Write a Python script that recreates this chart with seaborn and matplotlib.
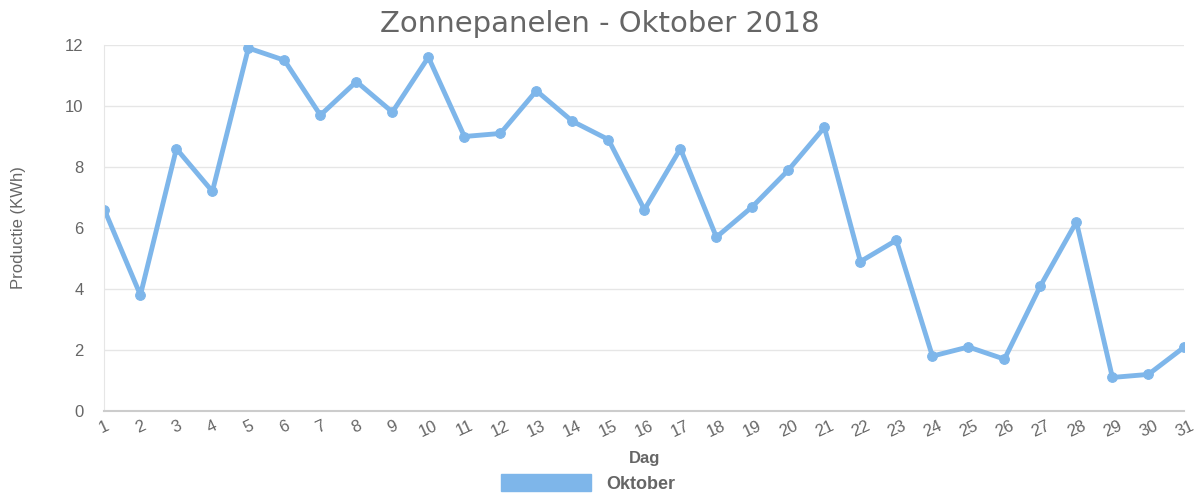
import pandas as pd
import seaborn as sns
import matplotlib.pyplot as plt

# dagen en productie in oktober 2018
dagen = list(range(1, 32))
productie = [6.6, 3.8, 8.6, 7.2, 11.9, 11.5, 9.7, 10.8, 9.8, 11.6,
             9.0, 9.1, 10.5, 9.5, 8.9, 6.6, 8.6, 5.7, 6.7, 7.9,
             9.3, 4.9, 5.6, 1.8, 2.1, 1.7, 4.1, 6.2, 1.1, 1.2, 2.1]
y_ticks = [0, 2, 4, 6, 8, 10, 12]

df = pd.DataFrame({"Dag": dagen, "Productie": productie})

sns.set_style("white")
plt.rcParams['font.family'] = ['Liberation Sans', 'DejaVu Sans']

kleur = "#7EB6EA"
grijs = "#666666"
fig = plt.figure(figsize=(12, 5), dpi=100)
ax = fig.add_axes([0.087, 0.178, 0.9, 0.732])

sns.lineplot(data=df, x="Dag", y="Productie", ax=ax, color=kleur, linewidth=3.5,
             marker="o", markersize=7, markeredgecolor=kleur, label="Oktober")

ax.set_xlim(1, 31)
ax.set_ylim(0, 12)
ax.set_xticks(dagen)
ax.set_xticklabels([str(d) for d in dagen], rotation=25, color=grijs, fontsize=12)
ax.set_yticks(y_ticks)
ax.set_yticklabels([str(v) for v in y_ticks], color=grijs, fontsize=12)
ax.tick_params(axis="x", length=0, pad=5)
ax.tick_params(axis="y", length=0, pad=15)
ax.grid(axis="y", color="#e6e6e6", linewidth=1)
ax.set_axisbelow(True)

for side in ["top", "right"]:
    ax.spines[side].set_visible(False)
ax.spines["left"].set_color("#e6e6e6")
ax.spines["bottom"].set_color("#cccccc")
ax.spines["bottom"].set_linewidth(1.5)

ax.set_xlabel("Dag", color=grijs, fontsize=12, labelpad=8, fontweight="bold")
ax.set_ylabel("Productie (KWh)", color=grijs, fontsize=12, labelpad=28)
fig.suptitle("Zonnepanelen - Oktober 2018", color=grijs, fontsize=21, y=0.98,
             family=['DejaVu Sans'])

ax.legend_.remove()
handle = plt.Rectangle((0, 0), 1, 1, color=kleur)
fig.legend([handle], ["Oktober"], loc="center", bbox_to_anchor=(0.49, 0.033),
           frameon=False, handlelength=5, handleheight=1.0, handletextpad=0.8,
           prop={"weight": "bold", "size": 13}, labelcolor=grijs)

fig.savefig("out.png", dpi=100)
